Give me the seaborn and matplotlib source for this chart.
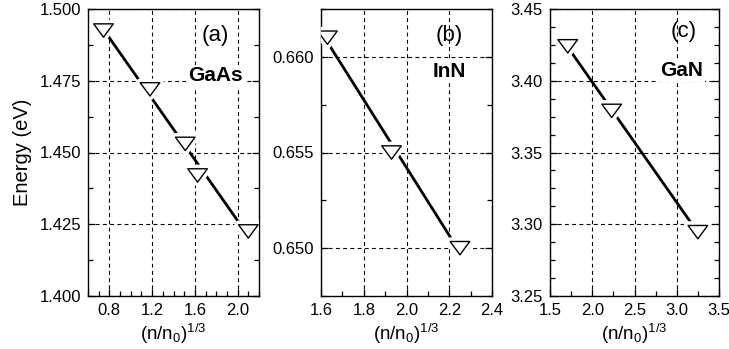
import numpy as np
import pandas as pd
import matplotlib
matplotlib.use("Agg")
import matplotlib.pyplot as plt
import matplotlib.patheffects as pe
from matplotlib.ticker import MultipleLocator, FormatStrFormatter
from matplotlib.path import Path
import seaborn as sns

# ---- data ----
gaas_x = [0.745, 1.18, 1.51, 1.625, 2.10]
gaas_y = [1.4925, 1.472, 1.453, 1.442, 1.4225]
inn_x = [1.63, 1.93, 2.25]
inn_y = [0.6610, 0.6550, 0.6500]
gan_x = [1.71, 2.23, 3.25]
gan_y = [3.424, 3.379, 3.2945]

panel_tags = ["(a)", "(b)", "(c)"]
materials = ["GaAs", "InN", "GaN"]
xlims = [(0.6, 2.2), (1.6, 2.4), (1.5, 3.5)]
ylims = [(1.400, 1.500), (0.6475, 0.6625), (3.25, 3.45)]
x_major = [0.4, 0.2, 0.5]
x_minor = [0.1, 0.1, 0.25]
y_major = [0.025, 0.005, 0.05]
y_minor = [0.0125, 0.0025, 0.0125]
x_fmt = ["%.1f", "%.1f", "%.1f"]
y_fmt = ["%.3f", "%.3f", "%.2f"]
tag_pos = [(0.743, 0.909), (0.749, 0.909), (0.789, 0.921)]
mat_pos = [(0.743, 0.767), (0.749, 0.781), (0.779, 0.784)]

sns.set_theme(style="ticks")
plt.rcParams["font.family"] = ["Liberation Sans", "DejaVu Sans"]
plt.rcParams["mathtext.fontset"] = "custom"
plt.rcParams["mathtext.rm"] = "Liberation Sans"
plt.rcParams["mathtext.it"] = "Liberation Sans:italic"

fig = plt.figure(figsize=(7.29, 3.49), dpi=100)
positions = [
    [88 / 729, 53 / 349, 171 / 729, 287 / 349],
    [321 / 729, 53 / 349, 171 / 729, 287 / 349],
    [550 / 729, 53 / 349, 169 / 729, 287 / 349],
]

tri = Path([(-1.0, 0.68), (1.0, 0.68), (0.0, -0.68), (-1.0, 0.68)],
           [Path.MOVETO, Path.LINETO, Path.LINETO, Path.CLOSEPOLY])

datasets = [(gaas_x, gaas_y), (inn_x, inn_y), (gan_x, gan_y)]

for i, (xs, ys) in enumerate(datasets):
    ax = fig.add_axes(positions[i])
    df = pd.DataFrame({"x": xs, "y": ys})
    ax.set_axisbelow(True)
    ax.grid(True, which="major", color="black", linestyle=(0, (3.5, 3)), linewidth=0.8)
    sns.regplot(data=df, x="x", y="y", ax=ax, scatter=False, ci=None, truncate=True,
                line_kws=dict(color="black", linewidth=2.0, zorder=3))
    sns.scatterplot(data=df, x="x", y="y", ax=ax, marker=tri, s=200,
                    facecolor="white", edgecolor="black", linewidth=1.0, zorder=4,
                    path_effects=[pe.Stroke(linewidth=6, foreground="white"), pe.Normal()])
    ax.set_xlim(*xlims[i])
    ax.set_ylim(*ylims[i])
    ax.xaxis.set_major_locator(MultipleLocator(x_major[i]))
    ax.xaxis.set_minor_locator(MultipleLocator(x_minor[i]))
    ax.yaxis.set_major_locator(MultipleLocator(y_major[i]))
    ax.yaxis.set_minor_locator(MultipleLocator(y_minor[i]))
    ax.xaxis.set_major_formatter(FormatStrFormatter(x_fmt[i]))
    ax.yaxis.set_major_formatter(FormatStrFormatter(y_fmt[i]))
    ax.tick_params(which="both", direction="in", left=True, right=True, bottom=True,
                   top=False, colors="black", labelsize=12)
    ax.tick_params(which="major", length=5, width=0.9, pad=5)
    ax.tick_params(which="minor", length=3.5, width=0.9)
    for s in ax.spines.values():
        s.set_color("black")
        s.set_linewidth(1.0)
    ax.set_xlabel(r"$\mathregular{(n/n_0)^{1/3}}$", fontsize=13.5, labelpad=2.5, color="black")
    if i == 0:
        ax.set_ylabel("Energy (eV)", fontsize=14.5, labelpad=5, color="black")
    else:
        ax.set_ylabel("")
    ax.text(tag_pos[i][0], tag_pos[i][1], panel_tags[i], transform=ax.transAxes,
            ha="center", va="center", fontsize=16, color="black", zorder=5)
    ax.text(mat_pos[i][0], mat_pos[i][1], materials[i], transform=ax.transAxes,
            ha="center", va="center", fontsize=15, fontweight="bold", color="black",
            zorder=5, bbox=dict(facecolor="white", edgecolor="none", pad=1.0))

fig.savefig("out.png", dpi=100)
